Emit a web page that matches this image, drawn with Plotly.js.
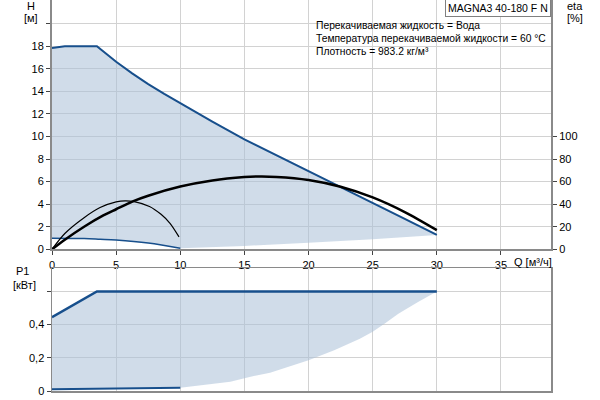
<!DOCTYPE html>
<html><head><meta charset="utf-8">
<script src="https://cdn.plot.ly/plotly-3.0.1.min.js"></script>
<style>body{margin:0;background:#fff}</style>
</head><body><div id="chart" style="width:600px;height:400px"></div>
<script>
// Head curves (H, m) vs flow Q (m3/h)
const qMax=[0,1,3.5,5,6.25,7.5,8.75,10,12.5,15,17.5,20,22.5,25,27.5,30];
const hMax=[17.85,18,18,16.62,15.6,14.65,13.78,12.95,11.32,9.75,8.35,6.95,5.55,4.13,2.7,1.27];
const qMin=[0,2.5,3.75,5,7.5,10];
const hMin=[0.98,0.95,0.89,0.82,0.55,0.09];
const qSys=[10,15,20,25,30];
const hSys=[0.09,0.3,0.57,0.89,1.27];
// Efficiency curves (eta, %)
const qEtaMax=[0,1,2.5,4,5,6.3,7.5,10,12.5,15,16,17.5,20,22.5,25,27.5,30];
const etaMax=[0,8.5,20,30,35.5,42.5,47.5,55.6,61,64,64.5,64.2,61.5,55.5,46,33,17];
const qEtaMin=[0,1,2.5,3.75,5,5.7,6.4,7.6,8.5,9.2,9.9];
const etaMin=[0,14,28,37,42,43,42.3,38,31,23,11];
// Power curves (P1, kW)
const qP1Max=[0,3.5,30];
const p1Max=[0.445,0.6,0.6];
const qP1Min=[0,10];
const p1Min=[0.01,0.02];
const qP1Sys=[10,13.9,15.4,17,20,22,24,25,26,27,28.5,30];
const p1Sys=[0.02,0.055,0.085,0.11,0.186,0.245,0.315,0.357,0.41,0.465,0.535,0.6];
// Ticks
const qTicks=[0,5,10,15,20,25,30,35];
const hTicks=[0,2,4,6,8,10,12,14,16,18,20];
const hTickText=['0','2','4','6','8','10','12','14','16','18',''];
const etaTicks=[0,20,40,60,80,100];
const p1Ticks=[0,0.2,0.4,0.6];
const p1TickText=['0','0,2','0,4',''];

const blue='#174f8c';
const fillC='rgba(170,192,215,0.55)';
const grid='#d2d2d2';
const axc='#8a8a8a';

const rev=a=>a.slice().reverse();
const traces=[
 {x:qMax.concat(rev(qSys),rev(qMin)),y:hMax.concat(rev(hSys),rev(hMin)),fill:'toself',fillcolor:fillC,mode:'none',xaxis:'x',yaxis:'y',hoverinfo:'skip'},
 {x:qP1Max.concat(rev(qP1Sys),rev(qP1Min)),y:p1Max.concat(rev(p1Sys),rev(p1Min)),fill:'toself',fillcolor:fillC,mode:'none',xaxis:'x2',yaxis:'y3',hoverinfo:'skip'},
 {x:qMax,y:hMax,mode:'lines',line:{color:blue,width:2},xaxis:'x',yaxis:'y'},
 {x:qMin,y:hMin,mode:'lines',line:{color:blue,width:1.5,shape:'spline'},xaxis:'x',yaxis:'y'},
 {x:qEtaMax,y:etaMax,mode:'lines',line:{color:'#000',width:2.5,shape:'spline',smoothing:0.8},xaxis:'x',yaxis:'y2'},
 {x:qEtaMin,y:etaMin,mode:'lines',line:{color:'#000',width:1.2,shape:'spline',smoothing:0.8},xaxis:'x',yaxis:'y2'},
 {x:qP1Max,y:p1Max,mode:'lines',line:{color:blue,width:2.5},xaxis:'x2',yaxis:'y3'},
 {x:qP1Min,y:p1Min,mode:'lines',line:{color:blue,width:2},xaxis:'x2',yaxis:'y3'}
];

const L=52,R=551,T=0,B=391;
const px=x=>(x-L)/(R-L);
const py=y=>(B-y)/(B-T);
const ann=(t,x,y,xa,opts)=>Object.assign({text:t,x:px(x),y:py(y),xref:'paper',yref:'paper',xanchor:xa||'center',yanchor:'middle',showarrow:false,font:{size:11,color:'#000'}},opts||{});
const sm={font:{size:10.3,color:'#000'}};

const layout={
 width:600,height:400,
 margin:{l:L,r:600-R,t:T,b:400-B},
 paper_bgcolor:'#fff',plot_bgcolor:'#fff',
 showlegend:false,
 font:{family:'Liberation Sans, Arial, sans-serif',size:11,color:'#000'},
 xaxis:{domain:[0,1],anchor:'y',range:[0,38.9],tickvals:qTicks,showgrid:true,gridcolor:grid,gridwidth:1,
   showline:true,linecolor:axc,linewidth:2,ticks:'outside',ticklen:4,tickcolor:'#444',zeroline:false,tickfont:{size:11}},
 yaxis:{domain:[(B-249.3)/B,1],anchor:'x',range:[0,22.1],tickvals:hTicks,ticktext:hTickText,showgrid:true,gridcolor:grid,
   showline:true,linecolor:axc,linewidth:2,ticks:'outside',ticklen:4,tickcolor:'#444',zeroline:false},
 yaxis2:{overlaying:'y',side:'right',anchor:'x',range:[0,221],tickvals:etaTicks,showgrid:false,
   showline:true,linecolor:axc,linewidth:2,ticks:'outside',ticklen:4,tickcolor:'#444',zeroline:false},
 xaxis2:{domain:[0,1],anchor:'y3',range:[0,38.9],tickvals:qTicks,showticklabels:false,showgrid:true,gridcolor:grid,
   showline:true,mirror:true,linecolor:axc,linewidth:1.5,ticks:'',zeroline:false},
 yaxis3:{domain:[0,(B-268)/B],anchor:'x2',range:[0,0.741],tickvals:p1Ticks,ticktext:p1TickText,showgrid:true,gridcolor:grid,
   showline:true,mirror:true,linecolor:axc,linewidth:1.5,ticks:'outside',ticklen:4,tickcolor:'#444',zeroline:false},
 annotations:[
  ann('H',31,6),ann('[м]',31,18),
  ann('eta',575,6),ann('[%]',575,18),
  ann('P1',22,271),ann('[кВт]',24,285),
  ann('Q [м³/ч]',512,262,'left'),
  ann('MAGNA3 40-180 F N',551,8,'right',{bgcolor:'#fff',bordercolor:'#808080',borderwidth:1,borderpad:2,font:{size:10.5,color:'#000'}}),
  ann('Перекачиваемая жидкость = Вода',314,25.5,'left',sm),
  ann('Температура перекачиваемой жидкости = 60 °C',314,38.5,'left',sm),
  ann('Плотность = 983.2 кг/м³',314,51.5,'left',sm)
 ]
};
Plotly.newPlot('chart',traces,layout,{displayModeBar:false,staticPlot:true});
</script></body></html>
